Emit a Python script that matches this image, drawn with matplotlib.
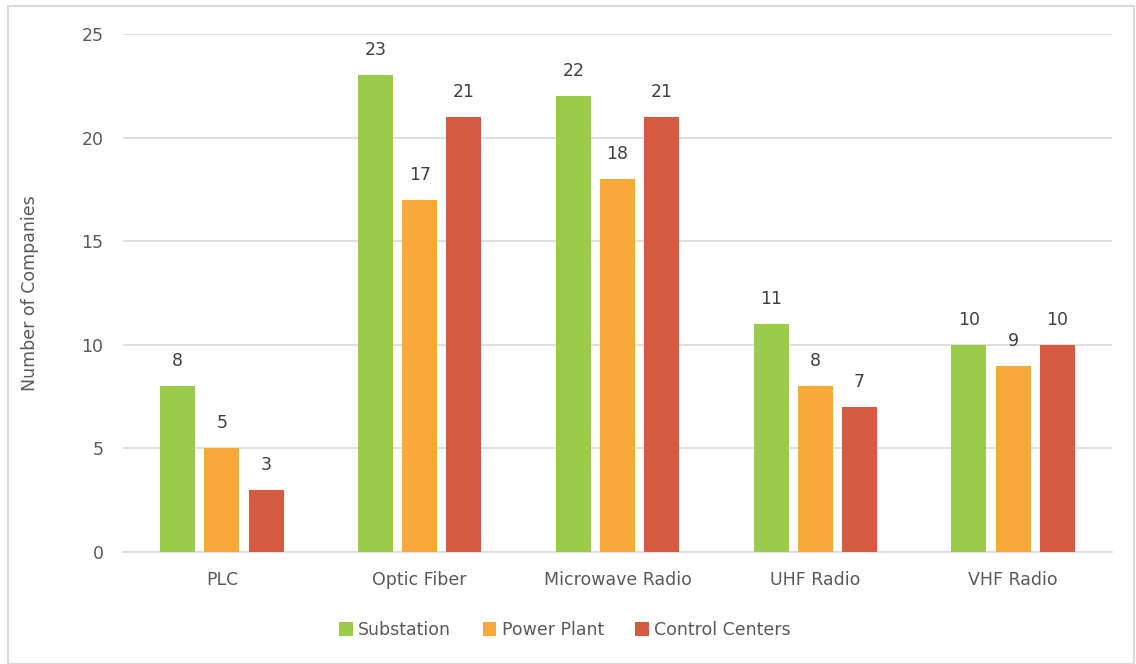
import matplotlib.pyplot as plt
from matplotlib.patches import Rectangle
import numpy as np

categories = ['PLC', 'Optic Fiber', 'Microwave Radio', 'UHF Radio', 'VHF Radio']
substation = [8, 23, 22, 11, 10]
power_plant = [5, 17, 18, 8, 9]
control_centers = [3, 21, 21, 7, 10]

series = [('Substation', substation, '#9BCB4B'),
          ('Power Plant', power_plant, '#F9A93A'),
          ('Control Centers', control_centers, '#D45B40')]

txt = '#595959'
fs = 12.5
plt.rcParams['font.family'] = ['DejaVu Sans']

fig = plt.figure(figsize=(11.36, 6.64), dpi=100)
ax = fig.add_axes([123/1136, 1-552/664, (1112-123)/1136, (552-34)/664])

x = np.arange(len(categories))
w = 0.177
step = 0.223
for i, (name, vals, col) in enumerate(series):
	pos = x + (i-1)*step
	bars = ax.bar(pos, vals, w, color=col, label=name, zorder=3)
	for b, v in zip(bars, vals):
		ax.annotate(str(v), (b.get_x()+b.get_width()/2, v), xytext=(0, 18),
			textcoords='offset points', ha='center', va='center', fontsize=fs, color='#404040')

ax.set_xlim(-0.5, len(categories)-0.5)
ax.set_ylim(0, 25)
ax.set_yticks([0, 5, 10, 15, 20, 25])
ax.set_xticks(x)
ax.set_xticklabels(categories)
ax.grid(axis='y', color='#D9D9D9', linewidth=1.2, zorder=0)
for s in ['top', 'right', 'left']:
	ax.spines[s].set_visible(False)
ax.spines['bottom'].set_color('#D9D9D9')
ax.spines['bottom'].set_linewidth(1.2)
ax.tick_params(length=0, labelsize=fs, colors=txt, pad=14)
ax.tick_params(axis='y', pad=14)
ax.set_ylabel('Number of Companies', fontsize=fs, color=txt)
ax.yaxis.set_label_coords(-84/989, 0.5)

fig.legend(loc='center', bbox_to_anchor=(565/1136, 1-630/664), ncol=3, frameon=False,
	fontsize=fs, labelcolor=txt, handlelength=0.8, handleheight=0.8, handletextpad=0.3, columnspacing=1.8)

fig.patches.append(Rectangle((8/1136, 0), (1134-8)/1136, 1-6/664, transform=fig.transFigure,
	fill=False, edgecolor='#D9D9D9', linewidth=1.5))

fig.savefig('out.png', dpi=100)
